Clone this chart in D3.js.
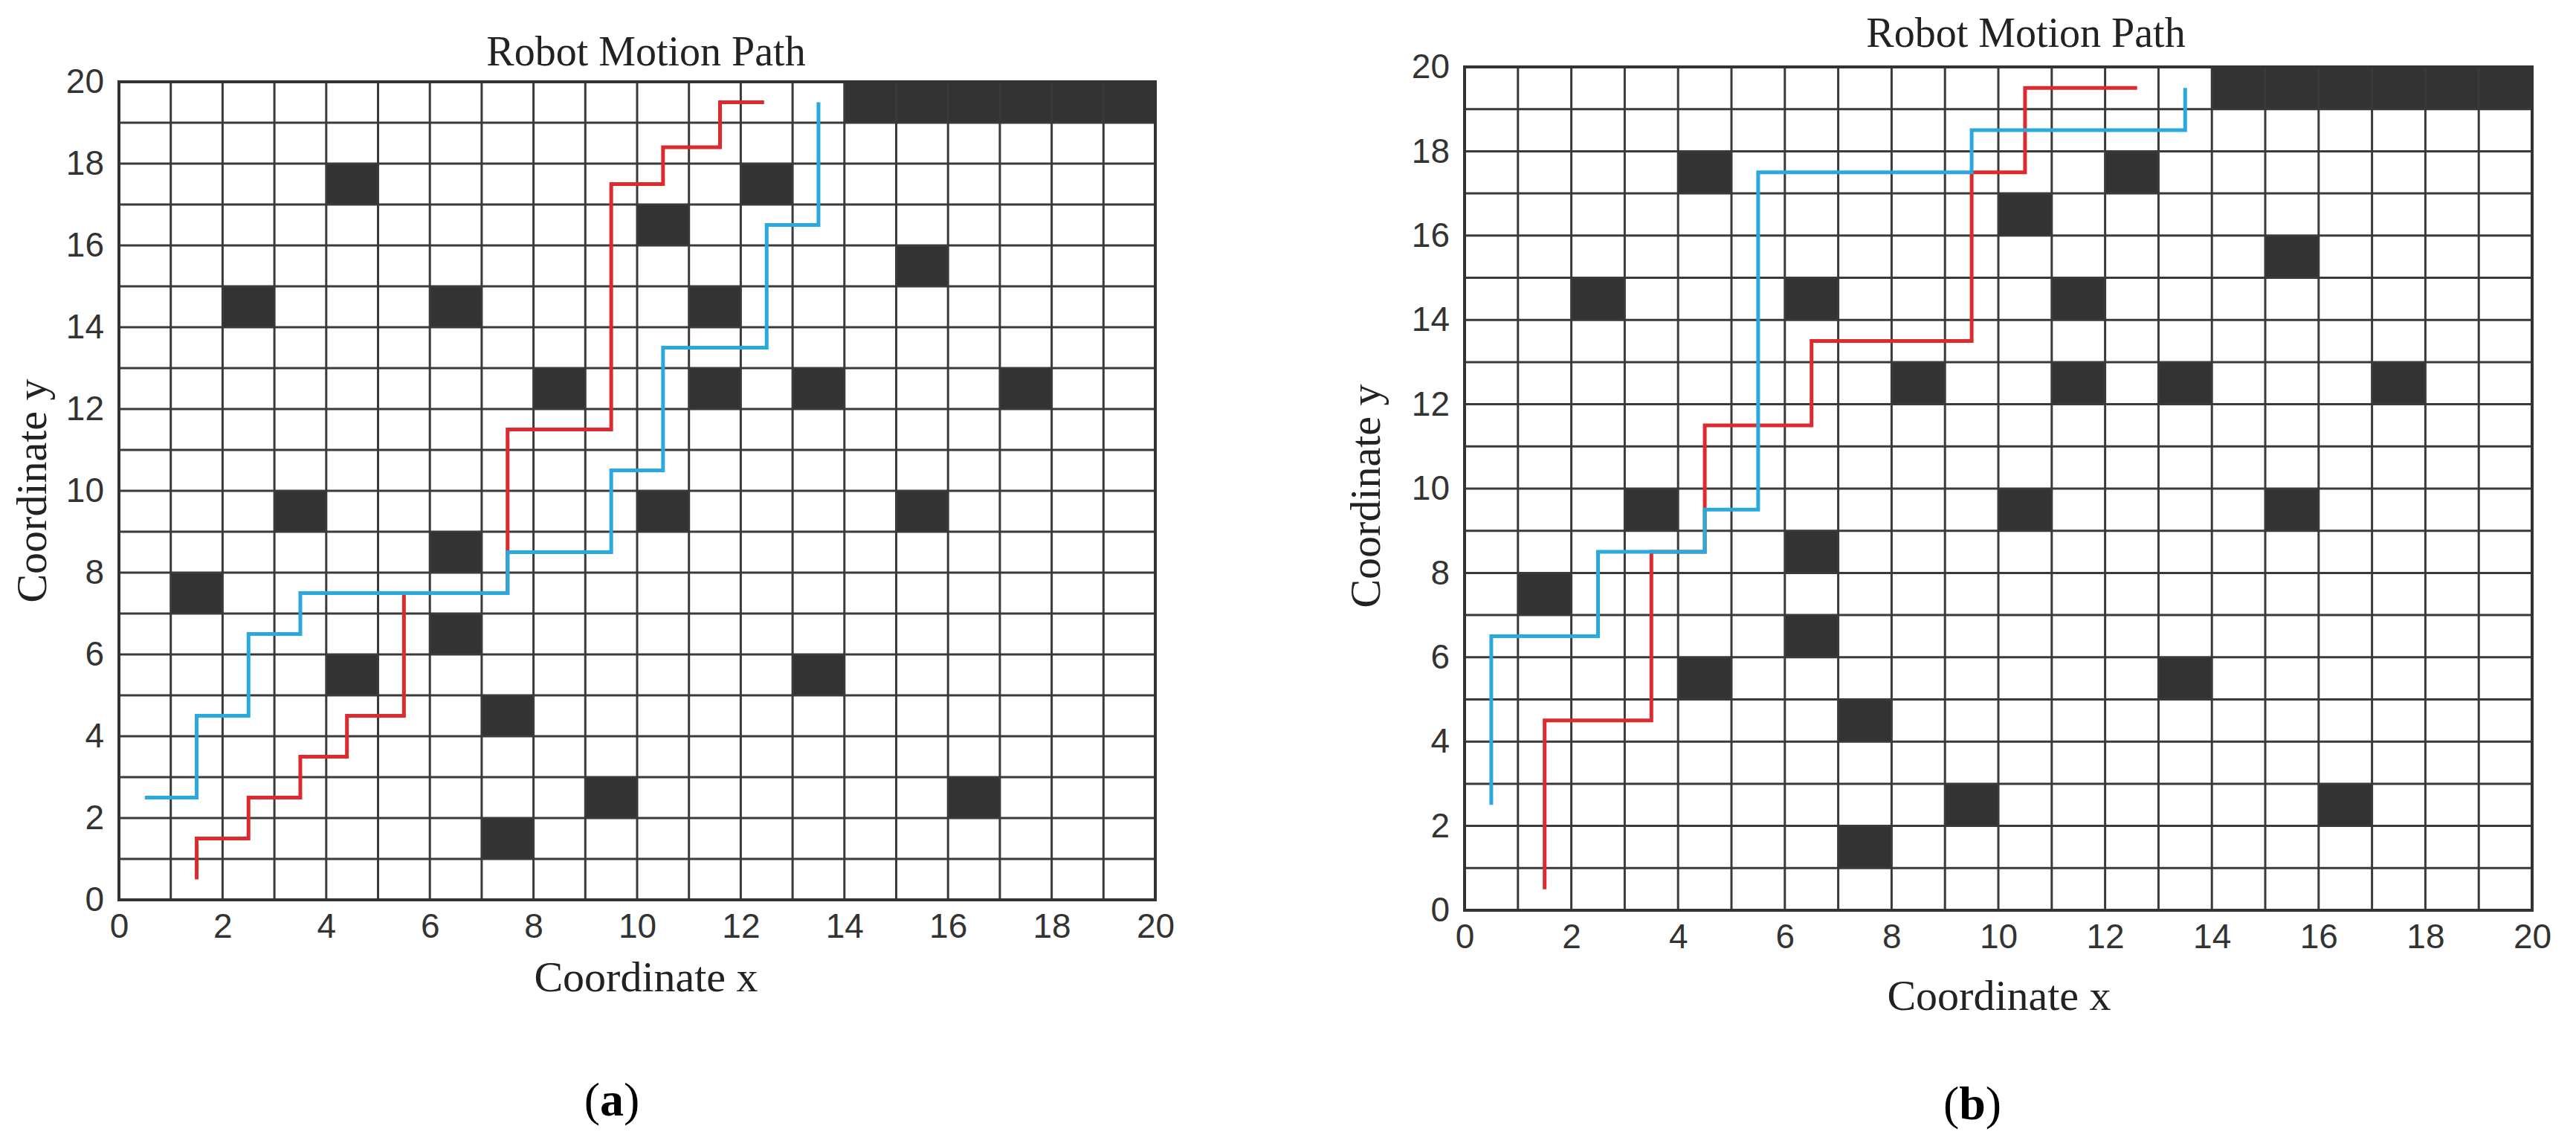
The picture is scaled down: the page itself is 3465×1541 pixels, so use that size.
<!DOCTYPE html>
<html>
<head>
<meta charset="utf-8">
<script src="https://cdn.jsdelivr.net/npm/d3@7"></script>
<style>
  body { margin: 0; background: #fff; }
  svg { display: block; }
</style>
</head>
<body>
<svg id="chart" width="3465" height="1541"></svg>
<script>
// obstacles : coin bas-gauche de chaque case [x, y]
const obstacles = [
  [14, 19], [15, 19], [16, 19], [17, 19], [18, 19], [19, 19],
  [4, 17], [12, 17], [10, 16], [15, 15],
  [2, 14], [6, 14], [11, 14],
  [8, 12], [11, 12], [13, 12], [17, 12],
  [3, 9], [10, 9], [15, 9], [6, 8], [1, 7], [6, 6],
  [4, 5], [13, 5], [7, 4], [9, 2], [16, 2], [7, 1]
];

// chemins panneau (a)
const redPathA = [
  [1.5, 0.5], [1.5, 1.5], [2.5, 1.5], [2.5, 2.5], [3.5, 2.5], [3.5, 3.5],
  [4.4, 3.5], [4.4, 4.5], [5.5, 4.5], [5.5, 7.5], [7.5, 7.5], [7.5, 11.5],
  [9.5, 11.5], [9.5, 17.5], [10.5, 17.5], [10.5, 18.4], [11.6, 18.4],
  [11.6, 19.5], [12.45, 19.5]
];
const bluePathA = [
  [0.5, 2.5], [1.5, 2.5], [1.5, 4.5], [2.5, 4.5], [2.5, 6.5], [3.5, 6.5],
  [3.5, 7.5], [7.5, 7.5], [7.5, 8.5], [9.5, 8.5], [9.5, 10.5], [10.5, 10.5],
  [10.5, 13.5], [12.5, 13.5], [12.5, 16.5], [13.5, 16.5], [13.5, 19.5]
];

// chemins panneau (b)
const redPathB = [
  [1.5, 0.5], [1.5, 4.5], [3.5, 4.5], [3.5, 8.5], [4.5, 8.5], [4.5, 11.5],
  [6.5, 11.5], [6.5, 13.5], [9.5, 13.5], [9.5, 17.5], [10.5, 17.5],
  [10.5, 19.5], [12.6, 19.5]
];
const bluePathB = [
  [0.5, 2.5], [0.5, 6.5], [2.5, 6.5], [2.5, 8.5], [4.5, 8.5], [4.5, 9.5],
  [5.5, 9.5], [5.5, 17.5], [9.5, 17.5], [9.5, 18.5], [13.5, 18.5], [13.5, 19.5]
];

const tickValues = [0, 2, 4, 6, 8, 10, 12, 14, 16, 18, 20];

const panels = [
  { left: 160, right: 1554, top: 110, bottom: 1210, red: redPathA, blue: bluePathA,
    title: [869, 88], xlab: [869, 1333], ylab: [62, 660], tag: [823, 1500], tagText: "a" },
  { left: 1970, right: 3406, top: 90, bottom: 1224, red: redPathB, blue: bluePathB,
    title: [2725, 63], xlab: [2689, 1358], ylab: [1856, 667], tag: [2653, 1505], tagText: "b" }
];

const svg = d3.select("#chart");
const serif = "'Liberation Serif', 'DejaVu Serif', serif";
const sans = "'Liberation Sans', Arial, sans-serif";

panels.forEach((p) => {
  const x = d3.scaleLinear().domain([0, 20]).range([p.left, p.right]);
  const y = d3.scaleLinear().domain([0, 20]).range([p.bottom, p.top]);
  const g = svg.append("g");

  // obstacles
  g.selectAll("rect.obs")
    .data(obstacles)
    .join("rect")
    .attr("x", (d) => x(d[0]))
    .attr("y", (d) => y(d[1] + 1))
    .attr("width", x(1) - x(0))
    .attr("height", y(0) - y(1))
    .attr("fill", "#333");

  // grille
  const units = d3.range(0, 21);
  g.selectAll("line.v").data(units).join("line")
    .attr("x1", (d) => x(d)).attr("x2", (d) => x(d))
    .attr("y1", y(0)).attr("y2", y(20))
    .attr("stroke", "#3a3a3a").attr("stroke-width", 3);
  g.selectAll("line.h").data(units).join("line")
    .attr("y1", (d) => y(d)).attr("y2", (d) => y(d))
    .attr("x1", x(0)).attr("x2", x(20))
    .attr("stroke", "#3a3a3a").attr("stroke-width", 3);
  g.append("rect")
    .attr("x", x(0)).attr("y", y(20))
    .attr("width", x(20) - x(0)).attr("height", y(0) - y(20))
    .attr("fill", "none").attr("stroke", "#333").attr("stroke-width", 4);

  // chemins
  const line = d3.line().x((d) => x(d[0])).y((d) => y(d[1]));
  g.append("path").attr("d", line(p.red))
    .attr("fill", "none").attr("stroke", "#dc2a2e").attr("stroke-width", 5);
  g.append("path").attr("d", line(p.blue))
    .attr("fill", "none").attr("stroke", "#29a9dc").attr("stroke-width", 5);

  // axes
  const xAxis = d3.axisBottom(x).tickValues(tickValues).tickSize(0).tickPadding(18);
  const yAxis = d3.axisLeft(y).tickValues(tickValues).tickSize(0).tickPadding(20);
  [g.append("g").attr("transform", `translate(0,${p.bottom})`).call(xAxis),
   g.append("g").attr("transform", `translate(${p.left},0)`).call(yAxis)]
    .forEach((a) => {
      a.select(".domain").remove();
      a.selectAll("text").attr("font-family", sans).attr("font-size", 46).attr("fill", "#333");
    });

  // textes
  g.append("text").attr("x", p.title[0]).attr("y", p.title[1])
    .attr("text-anchor", "middle").attr("font-family", serif).attr("font-size", 56)
    .attr("fill", "#222").text("Robot Motion Path");
  g.append("text").attr("x", p.xlab[0]).attr("y", p.xlab[1])
    .attr("text-anchor", "middle").attr("font-family", serif).attr("font-size", 58)
    .attr("fill", "#222").text("Coordinate x");
  g.append("text")
    .attr("transform", `translate(${p.ylab[0]},${p.ylab[1]}) rotate(-90)`)
    .attr("text-anchor", "middle").attr("font-family", serif).attr("font-size", 58)
    .attr("fill", "#222").text("Coordinate y");
  const tag = g.append("text").attr("x", p.tag[0]).attr("y", p.tag[1])
    .attr("text-anchor", "middle").attr("font-family", serif).attr("font-size", 64)
    .attr("fill", "#000");
  tag.append("tspan").text("(");
  tag.append("tspan").attr("font-weight", "bold").text(p.tagText);
  tag.append("tspan").text(")");
});
</script>
</body>
</html>
